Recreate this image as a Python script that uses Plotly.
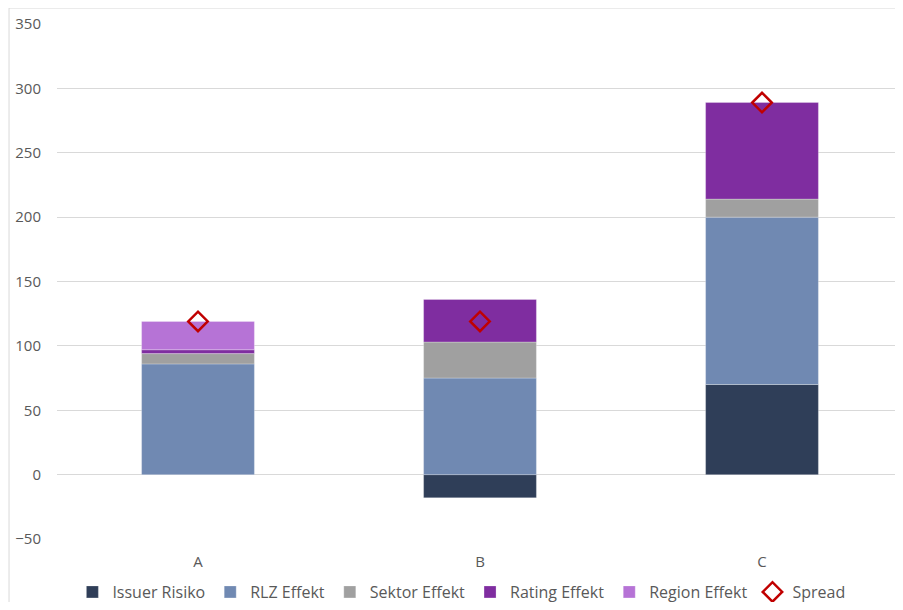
import plotly.graph_objects as go

categories = ["A", "B", "C"]
issuer_risiko = [None, -18, 70]
rlz_effekt = [86, 75, 130]
sektor_effekt = [8, 28, 14]
rating_effekt = [3, 33, 75]
region_effekt = [22, None, None]
spread = [119, 119, 289]

series = [
    ("Issuer Risiko", issuer_risiko, "#2F3E58"),
    ("RLZ Effekt", rlz_effekt, "#7089B2"),
    ("Sektor Effekt", sektor_effekt, "#A0A0A0"),
    ("Rating Effekt", rating_effekt, "#7F2DA0"),
    ("Region Effekt", region_effekt, "#B673D6"),
]

FONT = "Open Sans"
TXT = "#595959"

fig = go.Figure()
for name, vals, col in series:
    fig.add_trace(go.Bar(
        x=categories, y=vals, name=name, width=0.4,
        marker=dict(color=col, line=dict(width=0.6, color="rgba(255,255,255,0.45)")),
    ))
fig.add_trace(go.Scatter(
    x=categories, y=spread, name="Spread", mode="markers",
    marker=dict(symbol="diamond-open", size=15, color="#C00000",
                line=dict(width=2.5, color="#C00000")),
))

fig.update_layout(
    width=895, height=594,
    margin=dict(l=49, r=0, t=16, b=63, autoexpand=False),
    barmode="relative",
    paper_bgcolor="white", plot_bgcolor="white",
    font=dict(family=FONT, size=15, color=TXT),
    showlegend=True,
    legend=dict(orientation="h", x=0.478, xanchor="center",
                yref="container", y=0.0168, yanchor="middle",
                font=dict(family=FONT, size=16, color=TXT), traceorder="normal",
                itemwidth=30),
    xaxis=dict(range=[-0.5, 2.5], showgrid=False, zeroline=False, showline=False,
               ticks="", tickfont=dict(size=15, color=TXT), ticklabelstandoff=12),
    yaxis=dict(range=[-50, 350], dtick=50, showgrid=True, gridcolor="#D9D9D9", gridwidth=1,
               zeroline=True, zerolinecolor="#D9D9D9", zerolinewidth=1, showline=False,
               ticks="", tickfont=dict(size=15, color=TXT), ticklabelstandoff=15),
    shapes=[dict(type="rect", xref="paper", yref="paper",
                 x0=-0.0567, x1=1.2, y0=-0.4, y1=1.031,
                 line=dict(color="#D9D9D9", width=1), fillcolor="rgba(0,0,0,0)", layer="below")],
)

fig.write_html("out.html")
